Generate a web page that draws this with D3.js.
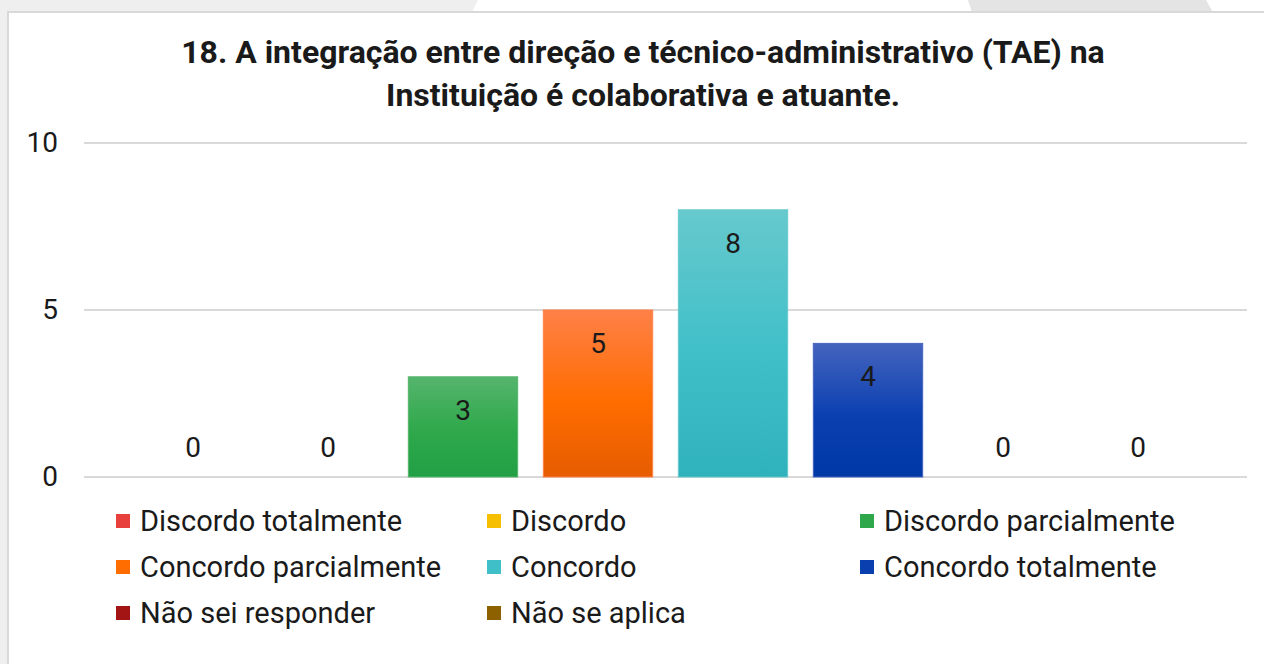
<!DOCTYPE html>
<html><head><meta charset="utf-8">
<script src="https://cdn.jsdelivr.net/npm/d3@7"></script>
<style>html,body{margin:0;padding:0;background:#fff;}svg{display:block;font-family:Roboto,"Noto Sans",sans-serif;}</style>
</head><body>
<script>
const categories = ["Discordo totalmente","Discordo","Discordo parcialmente","Concordo parcialmente","Concordo","Concordo totalmente","Não sei responder","Não se aplica"];
const values = [0,0,3,5,8,4,0,0];
const colors = ["#e8403c","#f6c000","#2ea84a","#ff6d00","#3fbfc8","#0a3fb0","#a31515","#8d6100"];
const gradTop = ["#ee6a66","#f8d040","#55b56d","#ff8048","#66c9cd","#4464be","#bb4040","#a07a30"];
const gradBot = ["#d83530","#e8b000","#22a046","#e65c00","#30b2bd","#0038a6","#921010","#7a5400"];
const yTicks = [0,5,10];
const titleLines = ["18. A integração entre direção e técnico-administrativo (TAE) na","Instituição é colaborativa e atuante."];

const W=1264,H=664;
const svg=d3.select("body").append("svg").attr("width",W).attr("height",H);
const defs=svg.append("defs");
categories.forEach((c,i)=>{
  const g=defs.append("linearGradient").attr("id","g"+i).attr("x1",0).attr("y1",0).attr("x2",0).attr("y2",1);
  g.append("stop").attr("offset","0%").attr("stop-color",gradTop[i]);
  g.append("stop").attr("offset","55%").attr("stop-color",colors[i]);
  g.append("stop").attr("offset","100%").attr("stop-color",gradBot[i]);
});

// page background decoration
svg.append("rect").attr("x",0).attr("y",0).attr("width",W).attr("height",H).attr("fill","#efefef");
svg.append("polygon").attr("points","478,0 968,0 972,12 472,12").attr("fill","#ffffff");
svg.append("polygon").attr("points","968,0 1206,0 1213,12 972,12").attr("fill","#e4e4e4");
svg.append("polygon").attr("points","1206,0 1264,0 1264,12 1213,12").attr("fill","#ffffff");
svg.append("rect").attr("x",7).attr("y",11).attr("width",W-7).attr("height",H-11).attr("fill","#d9d9d9");
svg.append("rect").attr("x",9).attr("y",13).attr("width",W-9).attr("height",H-13).attr("fill","#ffffff");

// title
svg.append("g").selectAll("text").data(titleLines).join("text")
  .attr("x",643).attr("y",(d,i)=>63+i*43).attr("text-anchor","middle")
  .attr("font-size",32).attr("font-weight","bold").attr("fill","#1a1a1a").text(d=>d);

const y=d3.scaleLinear().domain([0,10]).range([477,143]);
const x=d3.scaleBand().domain(categories).range([125.5,1205.5]).paddingInner(0.19).paddingOuter(0.095);

// grid
svg.append("g").selectAll("line").data(yTicks).join("line")
  .attr("x1",84).attr("x2",1247).attr("y1",d=>y(d)).attr("y2",d=>y(d))
  .attr("stroke","#d9d9d9").attr("stroke-width",2);
const yAxis=svg.append("g").attr("transform","translate(66,0)")
  .call(d3.axisLeft(y).tickValues(yTicks).tickSize(0).tickPadding(8));
yAxis.select(".domain").remove();
yAxis.selectAll("text").attr("font-size",28).attr("fill","#1a1a1a").attr("font-family","Roboto,sans-serif");

// bars
svg.append("g").selectAll("rect").data(values).join("rect")
  .attr("x",(d,i)=>x(categories[i])).attr("width",x.bandwidth())
  .attr("y",d=>y(d)).attr("height",d=>y(0)-y(d))
  .attr("fill",(d,i)=>"url(#g"+i+")").attr("stroke",(d,i)=>gradTop[i]).attr("stroke-width",1)
  .attr("display",d=>d>0?null:"none");

svg.append("g").selectAll("text").data(values).join("text")
  .attr("x",(d,i)=>x(categories[i])+x.bandwidth()/2)
  .attr("y",d=>d>0?y(d)+33:y(0)-30).attr("dy","0.35em")
  .attr("text-anchor","middle").attr("font-size",28).attr("fill","#1a1a1a").text(d=>d);

// legend
const colX=[116,487,860], rowY=[521,567,613];
const lg=svg.append("g").selectAll("g").data(categories).join("g")
  .attr("transform",(d,i)=>`translate(${colX[i%3]},${rowY[Math.floor(i/3)]})`);
lg.append("rect").attr("x",0).attr("y",-7).attr("width",14).attr("height",14).attr("fill",(d,i)=>colors[i]);
lg.append("text").attr("x",24).attr("dy","0.35em").attr("font-size",29).attr("fill","#1a1a1a").text(d=>d);
</script>
</body></html>
